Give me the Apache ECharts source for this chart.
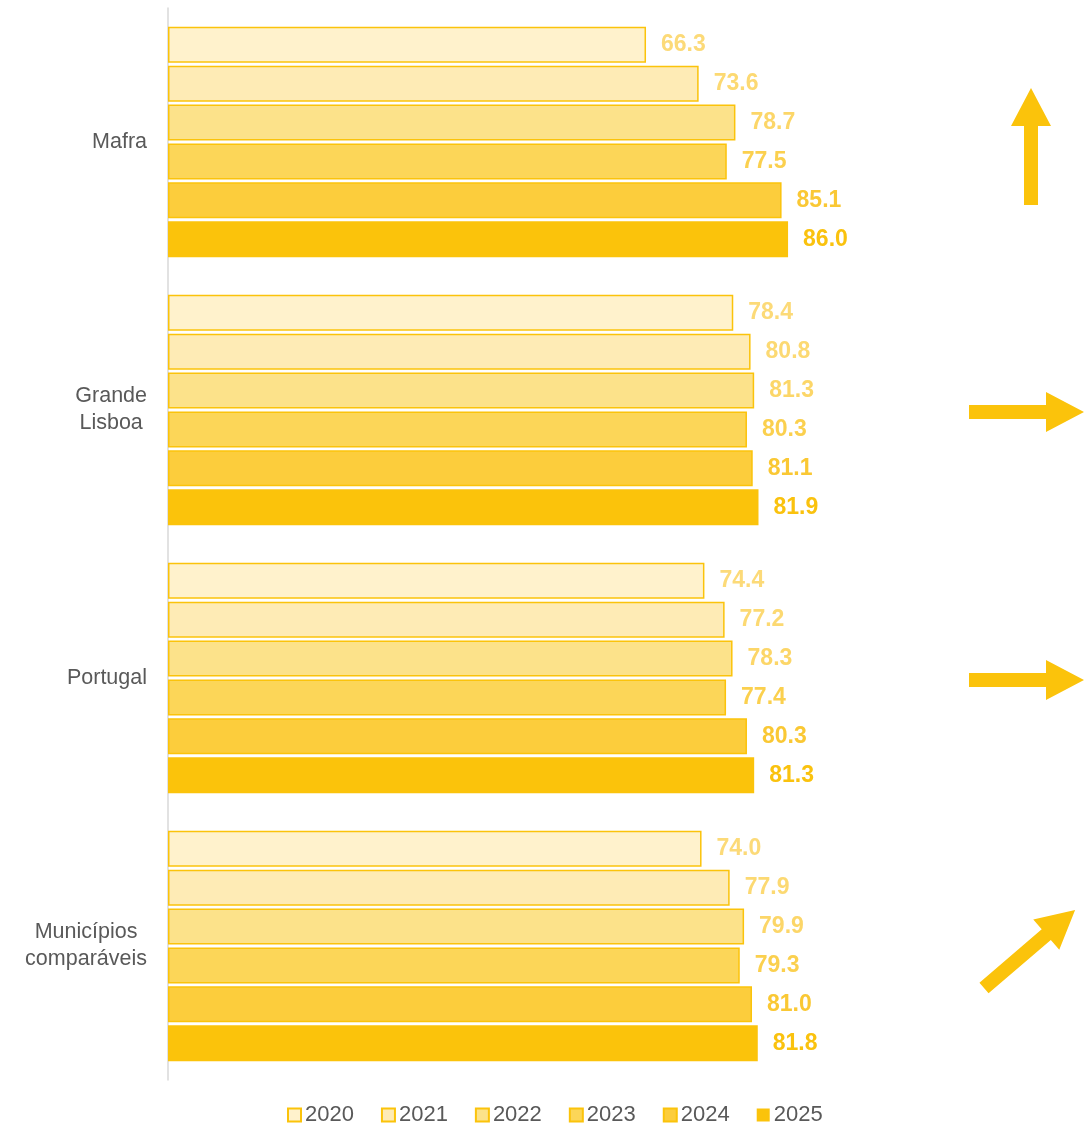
<!DOCTYPE html>
<html><head><meta charset="utf-8">
<script src="https://cdn.jsdelivr.net/npm/echarts@6/dist/echarts.min.js"></script>
<style>html,body{margin:0;padding:0;background:#fff}#c{width:1084px;height:1126px}</style>
</head><body><div id="c"></div>
<script>
const categories = ['Mafra', 'Grande\nLisboa', 'Portugal', 'Municípios\ncomparáveis'];
const years = ['2020', '2021', '2022', '2023', '2024', '2025'];
const v2020 = [66.3, 78.4, 74.4, 74.0];
const v2021 = [73.6, 80.8, 77.2, 77.9];
const v2022 = [78.7, 81.3, 78.3, 79.9];
const v2023 = [77.5, 80.3, 77.4, 79.3];
const v2024 = [85.1, 81.1, 80.3, 81.0];
const v2025 = [86.0, 81.9, 81.3, 81.8];
const trends = ['up', 'flat', 'flat', 'diag'];

const values = [v2020, v2021, v2022, v2023, v2024, v2025];
const fills = ['#FFF2CC', '#FEEBB5', '#FCE28A', '#FCD658', '#FCCD3C', '#FBC30B'];
const labelColors = ['#FCDA78', '#FCD972', '#FCD668', '#FBD04E', '#FAC834', '#FAC20E'];

const chart = echarts.init(document.getElementById('c'), null, {renderer: 'canvas'});
const series = years.map((y, i) => ({
  name: y,
  type: 'bar',
  data: values[i],
  barGap: '8%',
  barCategoryGap: '14%',
  itemStyle: {color: fills[i], borderColor: '#FBC30B', borderWidth: i === 5 ? 0 : 1.5},
  label: {
    show: true, position: 'right', distance: 15,
    formatter: p => p.value.toFixed(1),
    color: labelColors[i], fontFamily: 'Liberation Sans, Arial', fontWeight: 'bold', fontSize: 23
  }
}));

chart.setOption({
  animation: false,
  grid: {left: 168, right: 195, top: 8, bottom: 46, containLabel: false},
  legend: {
    top: 1099, left: 282, itemWidth: 13, itemHeight: 13, itemGap: 27,
    icon: 'rect',
    textStyle: {color: '#595959', fontSize: 22, fontFamily: 'Liberation Sans, Arial', padding: [0,0,0,-1]},
    data: years
  },
  xAxis: {type: 'value', min: 0, max: 100, show: false},
  yAxis: {
    type: 'category', data: categories, inverse: true,
    axisLine: {show: true, lineStyle: {color: '#D9D9D9', width: 1.5}},
    axisTick: {show: false},
    axisLabel: {
      margin: 21, align: 'right',
      formatter: v => v.split('\n').map(s => '{c|' + s + '}').join('\n'),
      rich: {c: {align: 'center', color: '#595959', fontSize: 21.5, fontFamily: 'Liberation Sans, Arial', lineHeight: 27}}
    }
  },
  series: series
});

function arrowPts(L, hl, hw, sw) {
  return [[0, -sw], [L - hl, -sw], [L - hl, -hw], [L, 0], [L - hl, hw], [L - hl, sw], [0, sw]];
}
const graphics = trends.map((t, i) => {
  const cy = chart.convertToPixel({yAxisIndex: 0}, i);
  let x, y, rot, L;
  if (t === 'up') { x = 1031; y = cy + 63; rot = Math.PI / 2; L = 117; }
  else if (t === 'flat') { x = 969; y = cy + 2; rot = 0; L = 115; }
  else { x = 984; y = cy + 42; rot = Math.atan2(78, 91); L = 120; }
  return {
    type: 'polygon', x: x, y: y, rotation: rot,
    shape: {points: arrowPts(L, 38, 20, 7)},
    style: {fill: '#FBC30B'}, silent: true
  };
});
chart.setOption({graphic: graphics});
</script>
</body></html>
